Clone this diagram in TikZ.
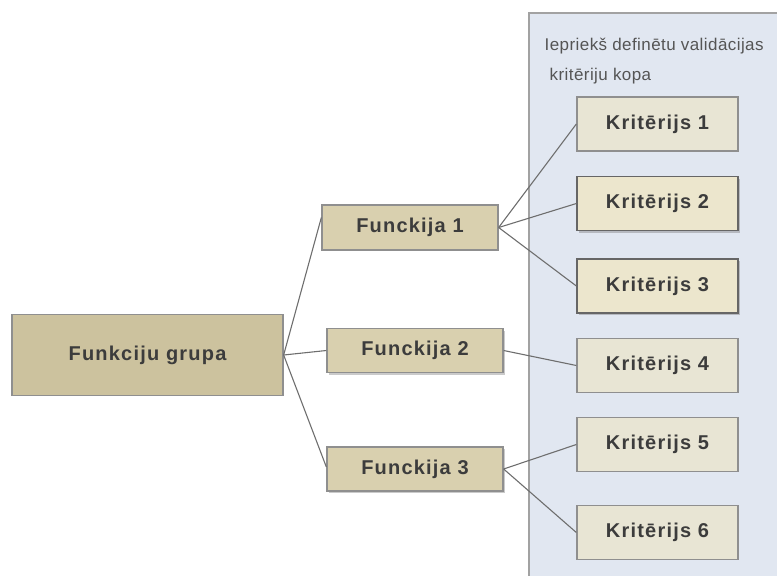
\documentclass[tikz,border=0pt]{standalone}
\usepackage{fontspec}
\setmainfont{Liberation Sans}
\newfontfamily\boxfont[LetterSpace=6]{Liberation Sans}
\newfontfamily\notefont[LetterSpace=2.5]{Liberation Sans}
\usetikzlibrary{shadows,calc}

\definecolor{panelfill}{HTML}{E1E7F1}
\definecolor{panelline}{HTML}{A2A2A2}
\definecolor{groupfill}{HTML}{CCC29E}
\definecolor{funcfill}{HTML}{D9D0AF}
\definecolor{critfill}{HTML}{E8E5D4}
\definecolor{critsel}{HTML}{ECE6CD}
\definecolor{boxline}{HTML}{8F8F8F}
\definecolor{boxdark}{HTML}{666666}
\definecolor{linkcol}{HTML}{6E6E6E}
\definecolor{labeltext}{HTML}{3C3C3C}
\definecolor{notetext}{HTML}{555555}

\tikzset{
  box/.style={draw=boxline, line width=1.3pt, inner sep=0pt,
    font=\boxfont\fontsize{20}{24}\selectfont\bfseries, text=labeltext},
  groupbox/.style={box, fill=groupfill},
  funcbox/.style={box, fill=funcfill, minimum width=176pt, minimum height=44pt},
  critbox/.style={box, fill=critfill, minimum width=161pt, minimum height=54pt},
  raised/.style={drop shadow={shadow xshift=1.5pt, shadow yshift=-2pt, opacity=0.35, fill=black!60}},
  chosen/.style={draw=boxdark, raised, fill=critsel},
  link/.style={draw=linkcol, line width=1.1pt},
  note/.style={anchor=base west, text=notetext, inner sep=0pt,
    font=\notefont\fontsize{17}{20}\selectfont},
}

\begin{document}
\begin{tikzpicture}[x=1pt, y=-1pt]
  \useasboundingbox (0,0) rectangle (777,576);
  \clip (0,0) rectangle (777,576);

  % panel holding the predefined criteria
  \path[fill=panelfill, draw=panelline, line width=1.3pt] (529,13) rectangle (800,600);
  \node[note] (note1) at (544.5,50) {Iepriekš definētu validācijas};
  \node[note] (note2) at (549.5,80) {kritēriju kopa};

  % group and functions
  \node[groupbox, minimum width=271pt, minimum height=81pt] (G) at (147.5,355) {Funkciju grupa};
  \node[funcbox, minimum height=45pt] (F1) at (410,227.5) {Funckija 1};
  \node[funcbox, raised] (F2) at (415,350.5) {Funckija 2};
  \node[funcbox, raised] (F3) at (415,469) {Funckija 3};

  % criteria
  \node[critbox] (K1) at (657.5,124) {Kritērijs 1};
  \node[critbox, chosen] (K2) at (657.5,203.5) {Kritērijs 2};
  \node[critbox, chosen] (K3) at (657.5,286) {Kritērijs 3};
  \node[critbox] (K4) at (657.5,365.5) {Kritērijs 4};
  \node[critbox] (K5) at (657.5,444.5) {Kritērijs 5};
  \node[critbox] (K6) at (657.5,532.5) {Kritērijs 6};

  % connectors
  \coordinate (F1in) at ([yshift=10pt]F1.west);
  \draw[link] (G.east) -- (F1in);
  \draw[link] (G.east) -- (F2.west);
  \draw[link] (G.east) -- ([yshift=2pt]F3.west);

  \draw[link] (F1.east) -- (K1.west);
  \draw[link] (F1.east) -- (K2.west);
  \draw[link] (F1.east) -- (K3.west);
  \draw[link] (F2.east) -- (K4.west);
  \draw[link] (F3.east) -- (K5.west);
  \draw[link] (F3.east) -- (K6.west);
\end{tikzpicture}
\end{document}
